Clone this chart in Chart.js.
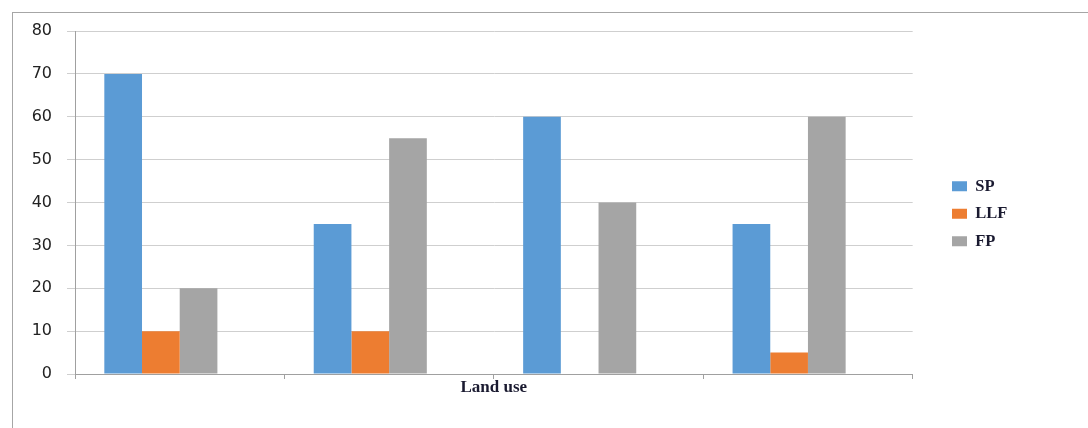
<!DOCTYPE html>
<html>
<head>
<meta charset="utf-8">
<script src="https://cdn.jsdelivr.net/npm/chart.js@4.4.0/dist/chart.umd.min.js"></script>
<style>
  html, body { margin: 0; padding: 0; background: #ffffff; }
  #wrap { position: relative; width: 1088px; height: 428px; overflow: hidden; }
  #frame { position: absolute; left: 12px; top: 12px; right: -2px; bottom: -2px;
           border-left: 1px solid #a6a6a6; border-top: 1px solid #a6a6a6; pointer-events: none; }
  canvas { position: absolute; left: 0; top: 0; }
</style>
</head>
<body>
<div id="wrap">
  <canvas id="chart" width="1088" height="428"></canvas>
  <div id="frame"></div>
</div>
<script>
// Land-use groups (unlabelled on the axis) and the three series
const categories = ['', '', '', ''];
const spValues  = [70, 35, 60, 35];
const llfValues = [10, 10, 0, 5];
const fpValues  = [20, 55, 40, 60];
// Spare slot after FP in every group, left empty
const spareValues = [null, null, null, null];
const yTickValues = [0, 10, 20, 30, 40, 50, 60, 70, 80];
const axisTitle = 'Land use';

// Puts the legend block to the right of the plot, level with the middle bars
const legendPlacement = {
  id: 'legendPlacement',
  afterLayout(chart) {
    const lg = chart.legend;
    const w = lg.width, h = lg.height;
    lg.left = 941; lg.right = lg.left + w;
    lg.top = 167; lg.bottom = lg.top + h;
  }
};

new Chart(document.getElementById('chart'), {
  type: 'bar',
  data: {
    labels: categories,
    datasets: [
      { label: 'SP',  data: spValues,  backgroundColor: '#5b9bd5' },
      { label: 'LLF', data: llfValues, backgroundColor: '#ed7d31' },
      { label: 'FP',  data: fpValues,  backgroundColor: '#a5a5a5' },
      { label: '',    data: spareValues, backgroundColor: 'rgba(0,0,0,0)' }
    ]
  },
  options: {
    responsive: false,
    animation: false,
    devicePixelRatio: 1,
    layout: { padding: { left: 0, top: 31, right: 99, bottom: 0 } },
    datasets: { bar: { categoryPercentage: 0.72, barPercentage: 1.0, borderWidth: 0 } },
    plugins: {
      tooltip: { enabled: false },
      legend: {
        position: 'right',
        align: 'start',
        labels: {
          boxWidth: 15,
          boxHeight: 10,
          padding: 11,
          color: '#1a1a30',
          font: { family: '"Liberation Serif", "DejaVu Serif", serif', size: 16.5, weight: 'bold' },
          filter: (item) => item.text !== ''
        }
      }
    },
    scales: {
      x: {
        offset: true,
        grid: { display: true, drawOnChartArea: false, drawTicks: true, tickLength: 5, color: '#a0a0a0', offset: true },
        border: { display: true, color: '#a0a0a0', width: 1 },
        ticks: { display: true, font: { size: 12 } },
        title: {
          display: true,
          text: axisTitle,
          color: '#1a1a30',
          font: { family: '"Liberation Serif", "DejaVu Serif", serif', size: 17, weight: 'bold' },
          padding: { top: 0, bottom: 30 }
        },
        afterFit(scale) { scale.height = 54; }
      },
      y: {
        min: 0,
        max: 80,
        afterBuildTicks(scale) { scale.ticks = yTickValues.map(v => ({ value: v })); },
        grid: { color: '#cfcfcf', tickLength: 8, drawTicks: true },
        border: { display: true, color: '#a0a0a0', width: 1 },
        ticks: {
          color: '#222222',
          padding: 15,
          font: { family: '"DejaVu Sans", sans-serif', size: 16 }
        },
        afterFit(scale) { scale.width = 75; }
      }
    }
  },
  plugins: [legendPlacement]
});
</script>
</body>
</html>
